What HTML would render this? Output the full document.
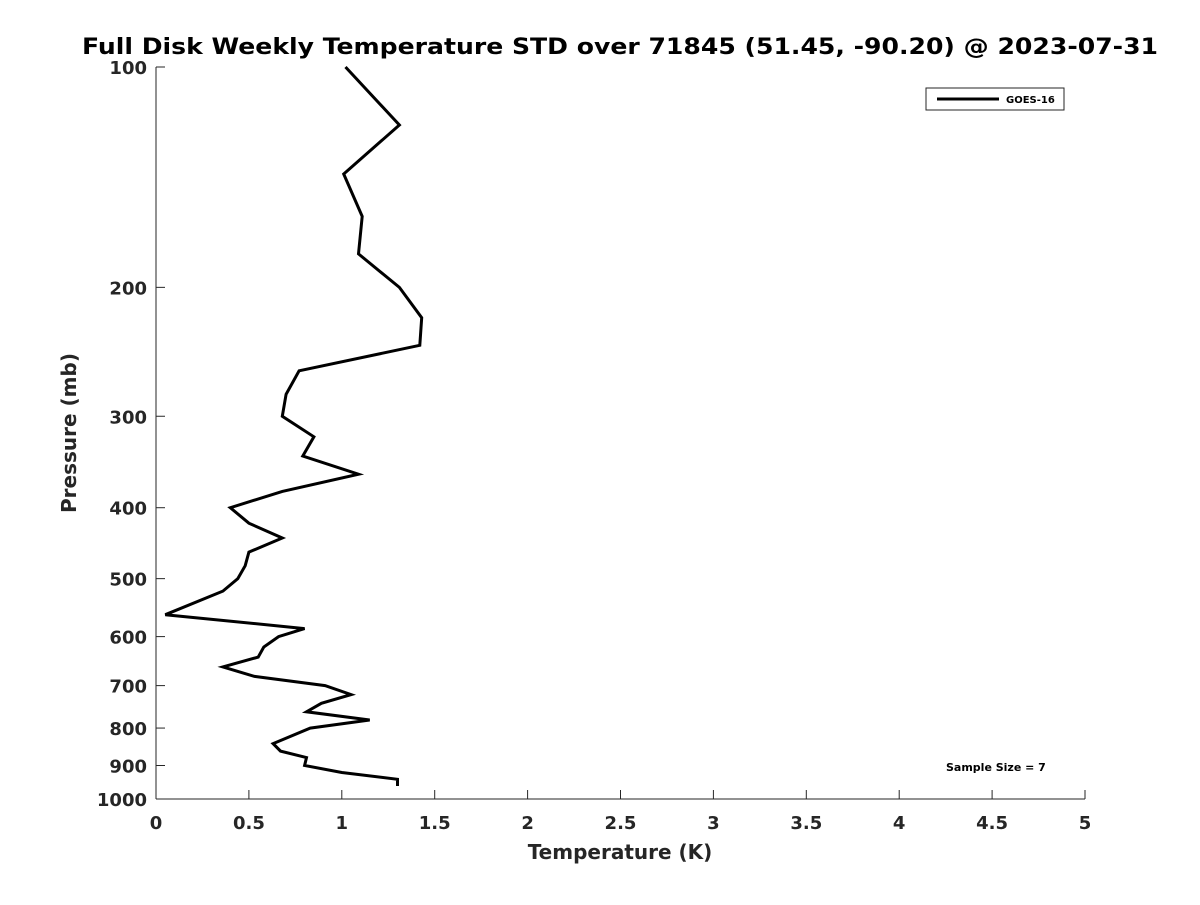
<!DOCTYPE html>
<html><head><meta charset="utf-8"><style>
html,body{margin:0;padding:0;background:#fff;}
svg text{font-family:"DejaVu Sans","Liberation Sans",sans-serif;font-weight:bold;}
</style></head><body>
<svg id="chart" width="1200" height="900" xmlns="http://www.w3.org/2000/svg">
<rect width="1200" height="900" fill="#fff"/>
<text x="620" y="54" text-anchor="middle" font-size="22" fill="#000" textLength="1076" lengthAdjust="spacingAndGlyphs">Full Disk Weekly Temperature STD over 71845 (51.45, -90.20) @ 2023-07-31</text>
<g id="axes"></g>
<polyline id="series-line" fill="none" stroke="#000" stroke-width="3" stroke-linejoin="miter"/>
<g>
<rect x="926" y="88" width="138" height="22" fill="#fff" stroke="#262626" stroke-width="1"/>
<line x1="937" y1="99" x2="999" y2="99" stroke="#000" stroke-width="3"/>
<text x="1006" y="103" font-size="10" fill="#000">GOES-16</text>
</g>
<text x="946" y="771" font-size="11" fill="#000">Sample Size = 7</text>
<text x="620" y="859" text-anchor="middle" font-size="20" fill="#262626">Temperature (K)</text>
<text transform="translate(76,433) rotate(-90)" text-anchor="middle" font-size="20" fill="#262626">Pressure (mb)</text>
</svg>
<script>
const pressures = [100,120,140,160,180,200,220,240,260,280,300,320,340,360,380,400,420,440,460,480,500,520,560,585,600,620,640,660,680,700,720,740,760,780,800,840,860,878,900,920,940,960];
const tempStd = [1.02,1.31,1.01,1.11,1.09,1.31,1.43,1.42,0.77,0.70,0.68,0.85,0.79,1.09,0.68,0.40,0.50,0.68,0.50,0.48,0.44,0.36,0.05,0.80,0.66,0.58,0.55,0.36,0.53,0.91,1.05,0.89,0.81,1.15,0.83,0.63,0.67,0.81,0.80,1.00,1.30,1.30];
const xTicks = [0,0.5,1,1.5,2,2.5,3,3.5,4,4.5,5];
const xTickLabels = ["0","0.5","1","1.5","2","2.5","3","3.5","4","4.5","5"];
const yTicks = [100,200,300,400,500,600,700,800,900,1000];
const yTickLabels = ["100","200","300","400","500","600","700","800","900","1000"];

const X0=156,X1=1085,Y0=67,Y1=799;
function xs(v){return X0+(v-0)/(5-0)*(X1-X0);}
function ys(p){return Y0+(Math.log10(p)-2)/(3-2)*(Y1-Y0);}
const NS="http://www.w3.org/2000/svg";
const axes=document.getElementById('axes');
function mk(tag,attrs,parent){const e=document.createElementNS(NS,tag);for(const k in attrs)e.setAttribute(k,attrs[k]);parent.appendChild(e);return e;}
const yl=mk('line',{x1:X0,y1:Y0,x2:X0,y2:Y1,stroke:'#262626','stroke-width':1},axes);


const xl=mk('line',{x1:X0,y1:Y1,x2:X1,y2:Y1,stroke:'#262626','stroke-width':1},axes);


xTicks.forEach((v,i)=>{
  const x=xs(v);
  const t=mk('line',{x1:x,y1:Y1,x2:x,y2:Y1-9,stroke:'#262626','stroke-width':1},axes);
  
  
  const l=mk('text',{x:x,y:Y1+30,'text-anchor':'middle','font-size':18,fill:'#262626'},axes);
  
  
  l.textContent=xTickLabels[i];
});
yTicks.forEach((p,i)=>{
  const y=ys(p);
  const t=mk('line',{x1:X0,y1:y,x2:X0+9,y2:y,stroke:'#262626','stroke-width':1},axes);
  
  
  const l=mk('text',{x:X0-9,y:y+7,'text-anchor':'end','font-size':18,fill:'#262626'},axes);
  
  
  l.textContent=yTickLabels[i];
});
document.getElementById('series-line').setAttribute('points',pressures.map((p,i)=>xs(tempStd[i]).toFixed(1)+','+ys(p).toFixed(1)).join(' '));
</script>
</body></html>
